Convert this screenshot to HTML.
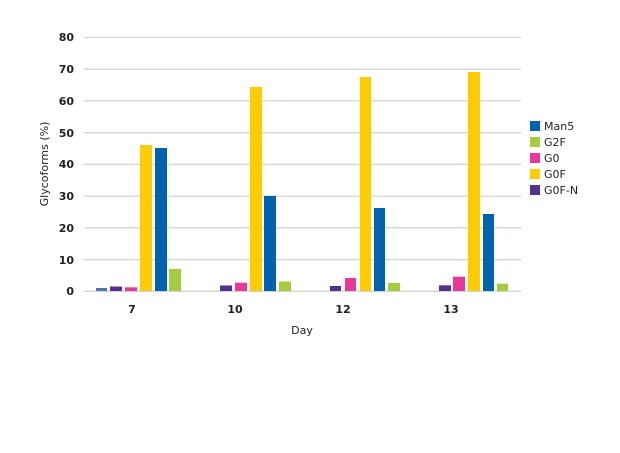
<!DOCTYPE html>
<html><head><style>body{margin:0;background:#fff}svg{display:block}text{font-family:"DejaVu Sans","Liberation Sans",sans-serif;fill:#222}</style></head><body>
<svg width="620" height="453" viewBox="0 0 620 453">
<g stroke="#d4d4d4" stroke-width="1.3">
<line x1="84" x2="521" y1="37.5" y2="37.5"/><line x1="84" x2="521" y1="69.2" y2="69.2"/><line x1="84" x2="521" y1="100.9" y2="100.9"/><line x1="84" x2="521" y1="132.7" y2="132.7"/><line x1="84" x2="521" y1="164.4" y2="164.4"/><line x1="84" x2="521" y1="196.1" y2="196.1"/><line x1="84" x2="521" y1="227.8" y2="227.8"/><line x1="84" x2="521" y1="259.6" y2="259.6"/><line x1="84" x2="521" y1="291.3" y2="291.3"/>
</g>
<g font-size="11" font-weight="bold" text-anchor="end">
<text x="74" y="41">80</text><text x="74" y="73">70</text><text x="74" y="105">60</text><text x="74" y="137">50</text><text x="74" y="168">40</text><text x="74" y="200">30</text><text x="74" y="232">20</text><text x="74" y="264">10</text><text x="74" y="295">0</text>
</g>
<g font-size="11" font-weight="bold" text-anchor="middle">
<text x="132" y="313">7</text><text x="235" y="313">10</text><text x="343" y="313">12</text><text x="451" y="313">13</text>
</g>
<text x="302" y="334" font-size="11" text-anchor="middle">Day</text>
<text transform="translate(48,164) rotate(-90)" font-size="11" text-anchor="middle">Glycoforms (%)</text>
<g>
<rect x="96" y="288" width="11" height="3" fill="#4f73b8"/>
<rect x="110" y="286.5" width="12" height="4.5" fill="#55318e"/>
<rect x="125" y="287.3" width="12" height="3.7" fill="#e8399a"/>
<rect x="140" y="145" width="12" height="146" fill="#ffcc00"/>
<rect x="155" y="148" width="12" height="143" fill="#0063b0"/>
<rect x="169" y="269" width="12" height="22" fill="#a4cc3c"/>

<rect x="220" y="285.5" width="12" height="5.5" fill="#55318e"/>
<rect x="235" y="282.7" width="12" height="8.3" fill="#e8399a"/>
<rect x="250" y="87" width="12" height="204" fill="#ffcc00"/>
<rect x="264" y="196" width="12" height="95" fill="#0063b0"/>
<rect x="279" y="281.5" width="12" height="9.5" fill="#a4cc3c"/>

<rect x="330" y="286" width="11" height="5" fill="#55318e"/>
<rect x="345" y="278" width="11" height="13" fill="#e8399a"/>
<rect x="360" y="77" width="11" height="214" fill="#ffcc00"/>
<rect x="374" y="208" width="11" height="83" fill="#0063b0"/>
<rect x="388" y="283" width="12" height="8" fill="#a4cc3c"/>

<rect x="439" y="285.3" width="12" height="5.7" fill="#55318e"/>
<rect x="453" y="276.7" width="12" height="14.3" fill="#e8399a"/>
<rect x="468" y="72" width="12" height="219" fill="#ffcc00"/>
<rect x="483" y="214" width="11" height="77" fill="#0063b0"/>
<rect x="497" y="283.7" width="11" height="7.3" fill="#a4cc3c"/>
</g>
<g font-size="11">
<rect x="530" y="121" width="10" height="10" fill="#0063b0"/><text x="544" y="130">Man5</text>
<rect x="530" y="137" width="10" height="10" fill="#a4cc3c"/><text x="544" y="146">G2F</text>
<rect x="530" y="153" width="10" height="10" fill="#e8399a"/><text x="544" y="162">G0</text>
<rect x="530" y="169" width="10" height="10" fill="#ffcc00"/><text x="544" y="178">G0F</text>
<rect x="530" y="185" width="10" height="10" fill="#55318e"/><text x="544" y="194">G0F-N</text>
</g>
</svg>
</body></html>
